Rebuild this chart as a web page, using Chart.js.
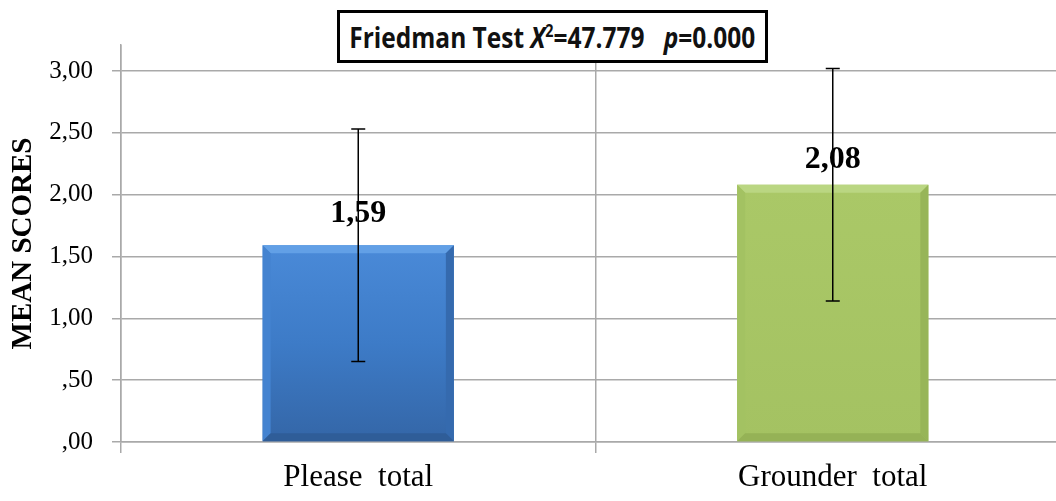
<!DOCTYPE html>
<html>
<head>
<meta charset="utf-8">
<script src="https://cdn.jsdelivr.net/npm/chart.js@4/dist/chart.umd.min.js"></script>
<style>
  body { margin: 0; background: #fff; overflow: hidden; }
  #wrap { position: relative; width: 1070px; height: 501px; }
  #testBox {
    position: absolute; left: 337px; top: 10px; width: 431px; height: 53px;
    box-sizing: border-box; border: 3.5px solid #000; background: #fff;
    display: flex; align-items: center; justify-content: center;
  }
  #testBox span {
    font: bold 29px "Open Sans", sans-serif; white-space: pre; color: #111;
    display: inline-block; transform: scaleX(0.845);
  }
  #testBox sup { font-size: 17px; vertical-align: 11px; line-height: 0; }
</style>
</head>
<body>
<div id="wrap">
  <canvas id="chart" width="1070" height="501"></canvas>
  <div id="testBox"><span>Friedman Test <i>X</i><sup>2</sup>=47.779   <i>p</i>=0.000</span></div>
</div>
<script>
// chart data
var categories = ["Please  total", "Grounder  total"];
var meanScores = [1.59, 2.08];
var errLow = [0.65, 1.14];
var errHigh = [2.53, 3.02];
var valueLabels = ["1,59", "2,08"];
var yTickLabels = [",00", ",50", "1,00", "1,50", "2,00", "2,50", "3,00"];

var gridGray = "#a9a9a9";
// bevel colours per bar: top, left, right, bottom
var bevels = [
    ["#62a0e6", "#4483d0", "#356aae", "#2f5d98"],
    ["#bad682", "#a3c262", "#97b558", "#95b256"]
];

function barFill(context) {
    var chart = context.chart;
    var area = chart.chartArea;
    if (!area) return "#4a86cf";
    var yScale = chart.scales.y;
    var top = yScale.getPixelForValue(meanScores[context.dataIndex]);
    var g = chart.ctx.createLinearGradient(0, top, 0, area.bottom);
    if (context.dataIndex === 0) {
        g.addColorStop(0, "#4a8ad8");
        g.addColorStop(0.5, "#3d7bc7");
        g.addColorStop(1, "#3466a7");
    } else {
        g.addColorStop(0, "#aac867");
        g.addColorStop(1, "#a4c262");
    }
    return g;
}

function poly(ctx, pts, color) {
    ctx.fillStyle = color;
    ctx.beginPath();
    ctx.moveTo(pts[0], pts[1]);
    for (var k = 2; k < pts.length; k += 2) ctx.lineTo(pts[k], pts[k + 1]);
    ctx.closePath();
    ctx.fill();
}

// bevel edges, error bars + value labels
var errorBarPlugin = {
    id: "errorBars",
    afterDatasetsDraw: function(chart) {
        var ctx = chart.ctx;
        var y = chart.scales.y;
        var meta = chart.getDatasetMeta(0);
        ctx.save();
        for (var i = 0; i < meta.data.length; i++) {
            var bar = meta.data[i];
            var l = bar.x - bar.width / 2, r = bar.x + bar.width / 2;
            var t = bar.y, b = bar.base, d = 8;
            var c = bevels[i];
            poly(ctx, [l, t, r, t, r - d, t + d, l + d, t + d], c[0]);
            poly(ctx, [l, t, l + d, t + d, l + d, b - d, l, b], c[1]);
            poly(ctx, [r, t, r, b, r - d, b - d, r - d, t + d], c[2]);
            poly(ctx, [l, b, l + d, b - d, r - d, b - d, r, b], c[3]);
        }
        for (var i = 0; i < meta.data.length; i++) {
            var bar = meta.data[i];
            ctx.fillStyle = "#000";
            ctx.font = "bold 32px 'Liberation Serif'";
            ctx.textAlign = "center";
            ctx.textBaseline = "alphabetic";
            ctx.fillText(valueLabels[i], bar.x, bar.y - (i === 0 ? 23 : 17));

            var yh = y.getPixelForValue(errHigh[i]);
            var yl = y.getPixelForValue(errLow[i]);
            ctx.strokeStyle = "#000";
            ctx.lineWidth = 1.5;
            ctx.beginPath();
            ctx.moveTo(bar.x, yh); ctx.lineTo(bar.x, yl);
            ctx.moveTo(bar.x - 7, yh); ctx.lineTo(bar.x + 7, yh);
            ctx.moveTo(bar.x - 7, yl); ctx.lineTo(bar.x + 7, yl);
            ctx.stroke();
        }
        ctx.restore();
    }
};

var ctx = document.getElementById("chart");

var chartData = {
    labels: categories,
    datasets: [{
        data: meanScores,
        backgroundColor: barFill,
        borderWidth: 0,
        barPercentage: 0.403,
        categoryPercentage: 1
    }]
};

var config = {
    type: "bar",
    data: chartData,
    plugins: [errorBarPlugin],
    options: {
        responsive: false,
        animation: false,
        layout: { padding: { top: 45, left: 0, right: 0, bottom: 0 } },
        plugins: { legend: { display: false }, tooltip: { enabled: false } },
        scales: {
            x: {
                offset: true,
                grid: { offset: true, color: gridGray, lineWidth: 1.5, tickLength: 11 },
                border: { color: gridGray, width: 1.5 },
                ticks: { color: "#000", font: { family: "'Liberation Serif'", size: 31 }, padding: 6 },
                afterFit: function(scale) { scale.height = 59; }
            },
            y: {
                min: 0,
                max: 3.21,
                grid: { color: gridGray, lineWidth: 1.5, tickLength: 9 },
                border: { color: gridGray, width: 1.5 },
                ticks: {
                    stepSize: 0.5,
                    includeBounds: false,
                    color: "#000",
                    padding: 19,
                    font: { family: "'Liberation Serif'", size: 25 },
                    callback: function(value) { return yTickLabels[Math.round(value / 0.5)]; }
                },
                title: {
                    display: true,
                    text: "MEAN SCORES",
                    color: "#000",
                    font: { family: "'Liberation Serif'", size: 29, weight: "bold" },
                    padding: { top: 6, bottom: 0 }
                },
                afterFit: function(scale) { scale.width = 121; }
            }
        }
    }
};

var barChart = new Chart(ctx, config);
</script>
</body>
</html>
